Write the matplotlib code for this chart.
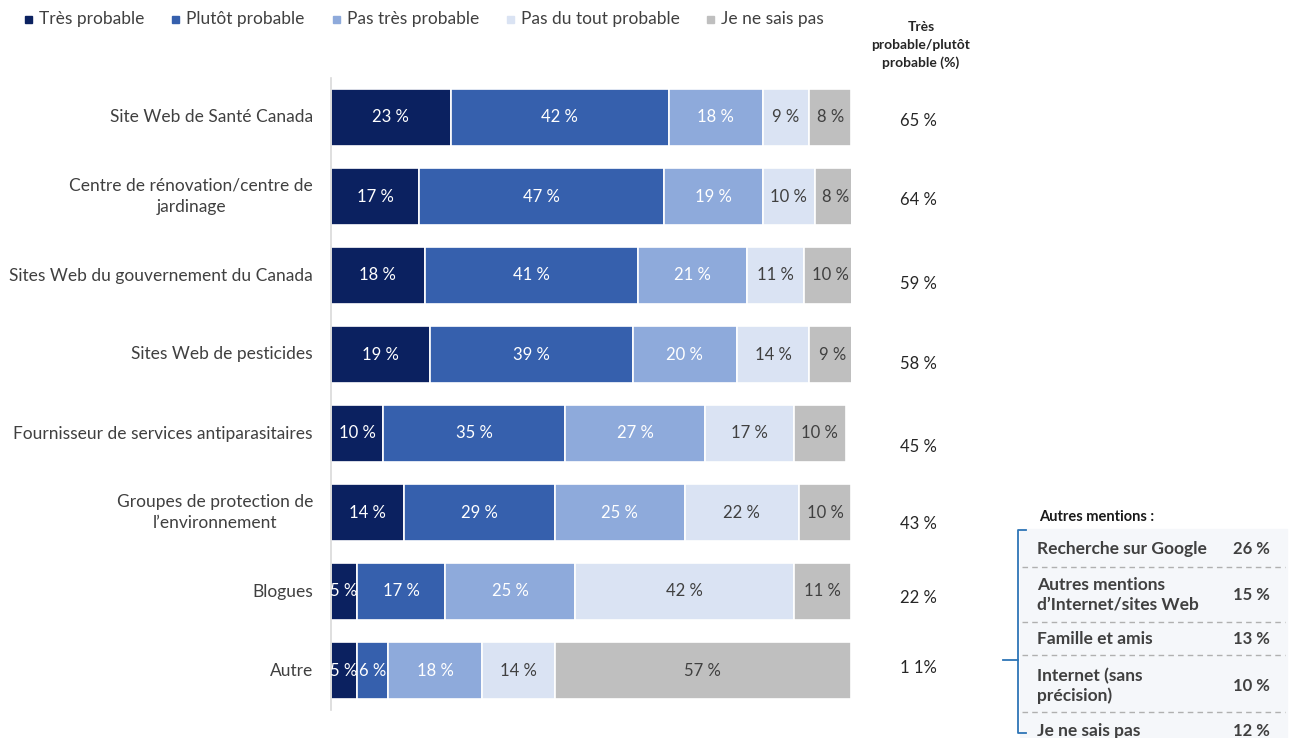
import matplotlib.pyplot as plt
from matplotlib.patches import Rectangle
from matplotlib.lines import Line2D

plt.rcParams['font.family'] = ['Lato', 'DejaVu Sans']

W, H = 1289, 738

categories = [
    "Site Web de Santé Canada",
    "Centre de rénovation/centre de\njardinage",
    "Sites Web du gouvernement du Canada",
    "Sites Web de pesticides",
    "Fournisseur de services antiparasitaires",
    "Groupes de protection de\nl\u2019environnement",
    "Blogues",
    "Autre",
]

series_names = ["Très probable", "Plutôt probable", "Pas très probable",
                "Pas du tout probable", "Je ne sais pas"]

tres_probable = [23, 17, 18, 19, 10, 14, 5, 5]
plutot_probable = [42, 47, 41, 39, 35, 29, 17, 6]
pas_tres_probable = [18, 19, 21, 20, 27, 25, 25, 18]
pas_du_tout = [9, 10, 11, 14, 17, 22, 42, 14]
ne_sais_pas = [8, 8, 10, 9, 10, 10, 11, 57]

# right-hand column: très + plutôt probable
total_labels = ["65 %", "64 %", "59 %", "58 %", "45 %", "43 %", "22 %", "1 1%"]

other_labels = ["Recherche sur Google", "Autres mentions\nd\u2019Internet/sites Web",
                "Famille et amis", "Internet (sans\nprécision)", "Je ne sais pas"]
other_values = [26, 15, 13, 10, 12]

colors = ["#0b2160", "#3660ad", "#8eaadb", "#dae3f3", "#bfbfbf"]
label_colors = ["white", "white", "white", "#404040", "#404040"]
text_grey = "#404040"


def fx(x):
    return x / W


def fy(y):
    return 1 - y / H


fig = plt.figure(figsize=(W / 100, H / 100), dpi=100)

# main stacked bar area
ax = fig.add_axes([fx(331), fy(710), fx(851) - fx(331), (710 - 78) / H])
series = [tres_probable, plutot_probable, pas_tres_probable, pas_du_tout, ne_sais_pas]
ypos = list(range(len(categories)))
left = [0] * len(categories)
for vals, col, lcol in zip(series, colors, label_colors):
    bars = ax.barh(ypos, vals, left=left, height=0.73, color=col,
                   edgecolor="white", linewidth=1.2)
    for b, v in zip(bars, vals):
        ax.text(b.get_x() + b.get_width() / 2, b.get_y() + b.get_height() / 2,
                f"{v} %", ha="center", va="center", fontsize=12,
                color=lcol, clip_on=True)
    left = [l + v for l, v in zip(left, vals)]

ax.set_xlim(0, 100)
ax.set_ylim(len(categories) - 0.5, -0.5)
ax.set_xticks([])
ax.set_yticks([])
for s in ["top", "right", "bottom"]:
    ax.spines[s].set_visible(False)
ax.spines["left"].set_color("#d9d9d9")
ax.spines["left"].set_linewidth(1.2)

# category labels, centred lines, right aligned block
for y, cat in zip(ypos, categories):
    ax.annotate(cat, xy=(0, y), xycoords=("axes fraction", "data"),
                xytext=(-13, 0), textcoords="offset points",
                ha="right", va="center", multialignment="center",
                fontsize=12.5, color=text_grey, linespacing=1.4)

# totals column
total_y = [121, 200, 284, 364, 447, 524, 598, 668]
for y, lab in zip(total_y, total_labels):
    fig.text(fx(918), fy(y), lab, ha="center", va="center", fontsize=12,
             color="#262626")

fig.text(fx(921), fy(45), "Très\nprobable/plutôt\nprobable (%)", ha="center",
         va="center", fontsize=10, fontweight="bold", color="#262626",
         linespacing=1.55)

# legend row
leg_x = [25, 172, 333, 507, 707]
for x, name, col in zip(leg_x, series_names, colors):
    fig.patches.append(Rectangle((fx(x), fy(23)), fx(7), 7 / H, color=col,
                                 transform=fig.transFigure))
    fig.text(fx(x + 14), fy(19), name, ha="left", va="center", fontsize=12.5,
             color=text_grey)

# "Autres mentions" panel
fig.patches.append(Rectangle((fx(1020), 0), fx(1287) - fx(1020), fy(529),
                             color="#f5f7fa", transform=fig.transFigure, zorder=0))
fig.text(fx(1039), fy(517), "Autres mentions :", ha="left", va="center",
         fontsize=10.5, fontweight="bold", color="#1a1a1a")

row_y = [549, 595, 639, 686, 731]
for y, lab, v in zip(row_y, other_labels, other_values):
    fig.text(fx(1037), fy(y), lab, ha="left", va="center", fontsize=12.5,
             fontweight="bold", color=text_grey, linespacing=1.25)
    fig.text(fx(1233), fy(y), f"{v} %", ha="left", va="center", fontsize=12,
             fontweight="bold", color=text_grey)

for y in [567, 622, 655, 712]:
    fig.add_artist(Line2D([fx(1022), fx(1285)], [fy(y), fy(y)], color="#b0b0b0",
                          linewidth=1, linestyle=(0, (4, 3)),
                          transform=fig.transFigure))

# bracket
brk = "#2e75b6"
fig.add_artist(Line2D([fx(1026), fx(1018), fx(1018), fx(1026)],
                      [fy(530), fy(530), fy(733), fy(733)], color=brk,
                      linewidth=1.3, transform=fig.transFigure))
fig.add_artist(Line2D([fx(1003), fx(1018)], [fy(660), fy(660)], color=brk,
                      linewidth=1.3, transform=fig.transFigure))

fig.savefig("out.png", dpi=100)
